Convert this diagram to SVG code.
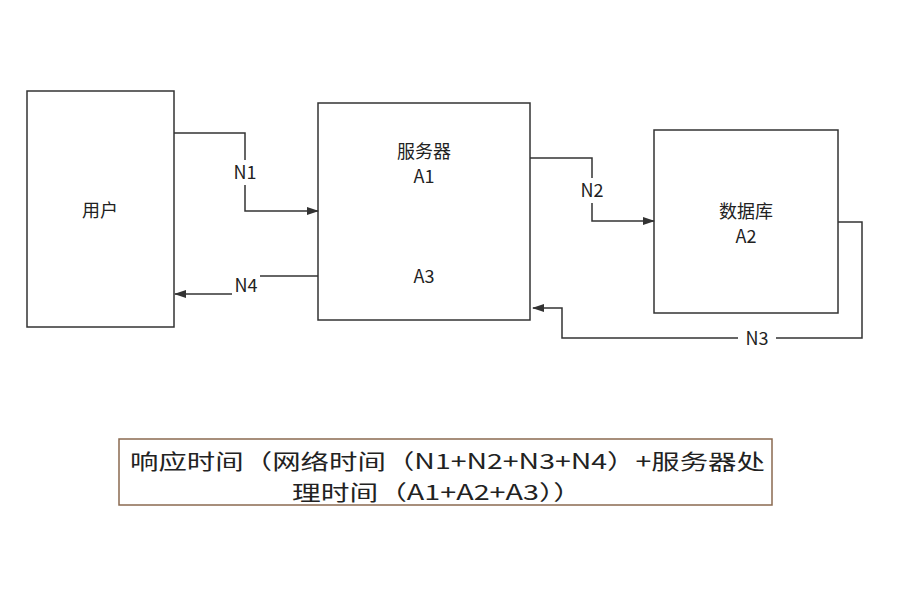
<svg xmlns="http://www.w3.org/2000/svg" width="918" height="592" viewBox="0 0 918 592">
<style>
.b{fill:#fff;stroke:#333;stroke-width:1.5}
.c{fill:none;stroke:#333;stroke-width:1.5}
text{font-family:"Noto Sans CJK SC","Noto Sans",sans-serif;fill:#222}
.l{font-size:18px;text-anchor:middle}
.t{font-size:21px}
</style>
<defs><marker id="a" markerWidth="12" markerHeight="8" refX="11" refY="4" orient="auto" markerUnits="userSpaceOnUse"><path d="M0,0L12,4L0,8z" fill="#333"/></marker></defs>
<rect width="918" height="592" fill="#fff"/>
<g id="user"><rect class="b" x="27" y="91" width="147" height="236"/><text class="l" x="100" y="217">用户</text></g>
<g id="server"><rect class="b" x="318" y="103" width="212" height="217"/><text class="l" x="424" y="158">服务器</text><text class="l" x="424" y="183">A1</text><text class="l" x="424" y="283">A3</text></g>
<g id="db"><rect class="b" x="654" y="130" width="184" height="183"/><text class="l" x="746" y="218">数据库</text><text class="l" x="746" y="243">A2</text></g>
<g id="connectors">
<path class="c" d="M174,133H245V160"/><path class="c" d="M245,185V211H318" marker-end="url(#a)"/><text class="l" x="245" y="179">N1</text>
<path class="c" d="M530,158H592V178"/><path class="c" d="M592,203V221H654" marker-end="url(#a)"/><text class="l" x="592" y="197">N2</text>
<path class="c" d="M838,222H862V338H776"/><path class="c" d="M738,338H562V308H533" marker-end="url(#a)"/><text class="l" x="757" y="345">N3</text>
<path class="c" d="M318,276H260"/><path class="c" d="M232,294H175" marker-end="url(#a)"/><text class="l" x="246" y="292">N4</text>
</g>
<g id="formula">
<rect x="119" y="439" width="653" height="66" fill="none" stroke="#8a6a50" stroke-width="1.5"/>
<text class="t" x="130" y="469" textLength="635" lengthAdjust="spacingAndGlyphs">响应时间（网络时间（N1+N2+N3+N4）+服务器处</text>
<text class="t" x="292" y="500" textLength="290" lengthAdjust="spacingAndGlyphs">理时间（A1+A2+A3））</text>
</g>
</svg>
